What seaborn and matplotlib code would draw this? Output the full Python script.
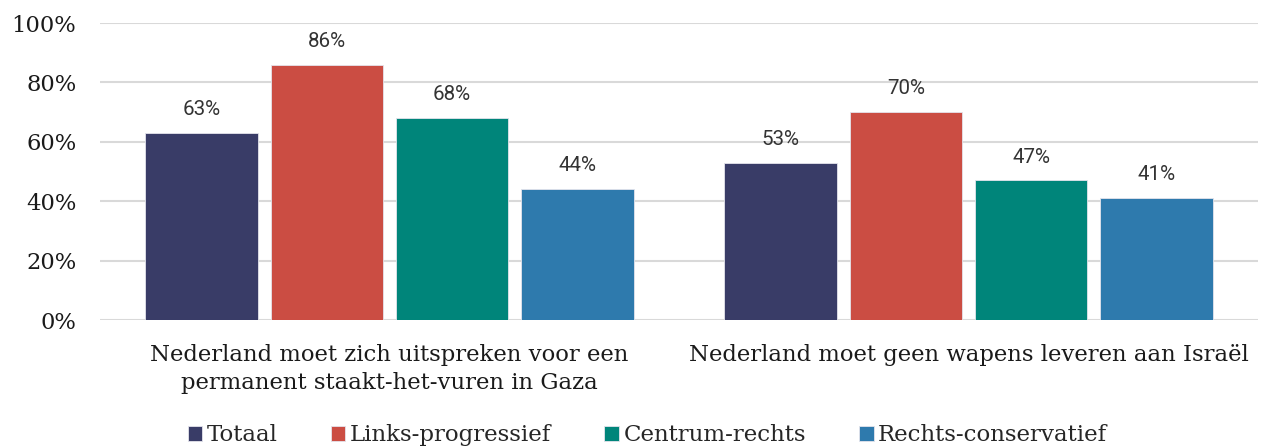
import pandas as pd
import seaborn as sns
import matplotlib.pyplot as plt

# values
statements = ["Nederland moet zich uitspreken voor een\npermanent staakt-het-vuren in Gaza",
              "Nederland moet geen wapens leveren aan Israël"]
groups = ["Totaal", "Links-progressief", "Centrum-rechts", "Rechts-conservatief"]
staakt_vuren = [63, 86, 68, 44]
geen_wapens = [53, 70, 47, 41]
colors = ["#393C67", "#CB4D43", "#00857A", "#2E7AAD"]
y_ticks = [0, 20, 40, 60, 80, 100]


def build_frame():
    rows = []
    for g, v in zip(groups, staakt_vuren):
        rows.append({"Stelling": statements[0], "Groep": g, "Pct": v})
    for g, v in zip(groups, geen_wapens):
        rows.append({"Stelling": statements[1], "Groep": g, "Pct": v})
    return pd.DataFrame(rows)


df = build_frame()

sns.set_style("white")
plt.rcParams["font.family"] = ["DejaVu Serif"]

fig = plt.figure(figsize=(12.62, 4.47), dpi=100)
ax = fig.add_axes([0.0792, 0.284, 0.9176, 0.6645])

sns.barplot(data=df, x="Stelling", y="Pct", hue="Groep", hue_order=groups,
            palette=colors, saturation=1, width=0.865, gap=0.1, ax=ax,
            edgecolor="#E4E4EC", linewidth=0.6, legend=True)

for cont in ax.containers:
    ax.bar_label(cont, fmt="%d%%", padding=10, fontsize=14.8,
                 color="#333333", family="Roboto")

ax.set_ylim(0, 100)
ax.set_xlim(-0.5, 1.5)
ax.set_yticks(y_ticks)
ax.set_yticklabels([f"{t}%" for t in y_ticks])
ax.grid(axis="y", color="#D9D9D9", linewidth=1.5)
ax.set_axisbelow(True)
sns.despine(ax=ax, left=True, bottom=True)
ax.tick_params(axis="y", length=0, pad=17, labelsize=16.3, labelcolor="#1a1a1a")
ax.tick_params(axis="x", length=0, pad=17, labelsize=16.4, labelcolor="#1a1a1a")
for lbl in ax.get_xticklabels():
    lbl.set_linespacing(1.38)
ax.set_xlabel("")
ax.set_ylabel("")

handles, labels = ax.get_legend_handles_labels()
ax.get_legend().remove()
fig.legend(handles, labels, loc="lower center", bbox_to_anchor=(0.513, -0.045),
           ncol=4, frameon=False, fontsize=16.5, handlelength=0.65, handleheight=0.65,
           handletextpad=0.2, columnspacing=2.3)

fig.savefig("out.png", dpi=100)
